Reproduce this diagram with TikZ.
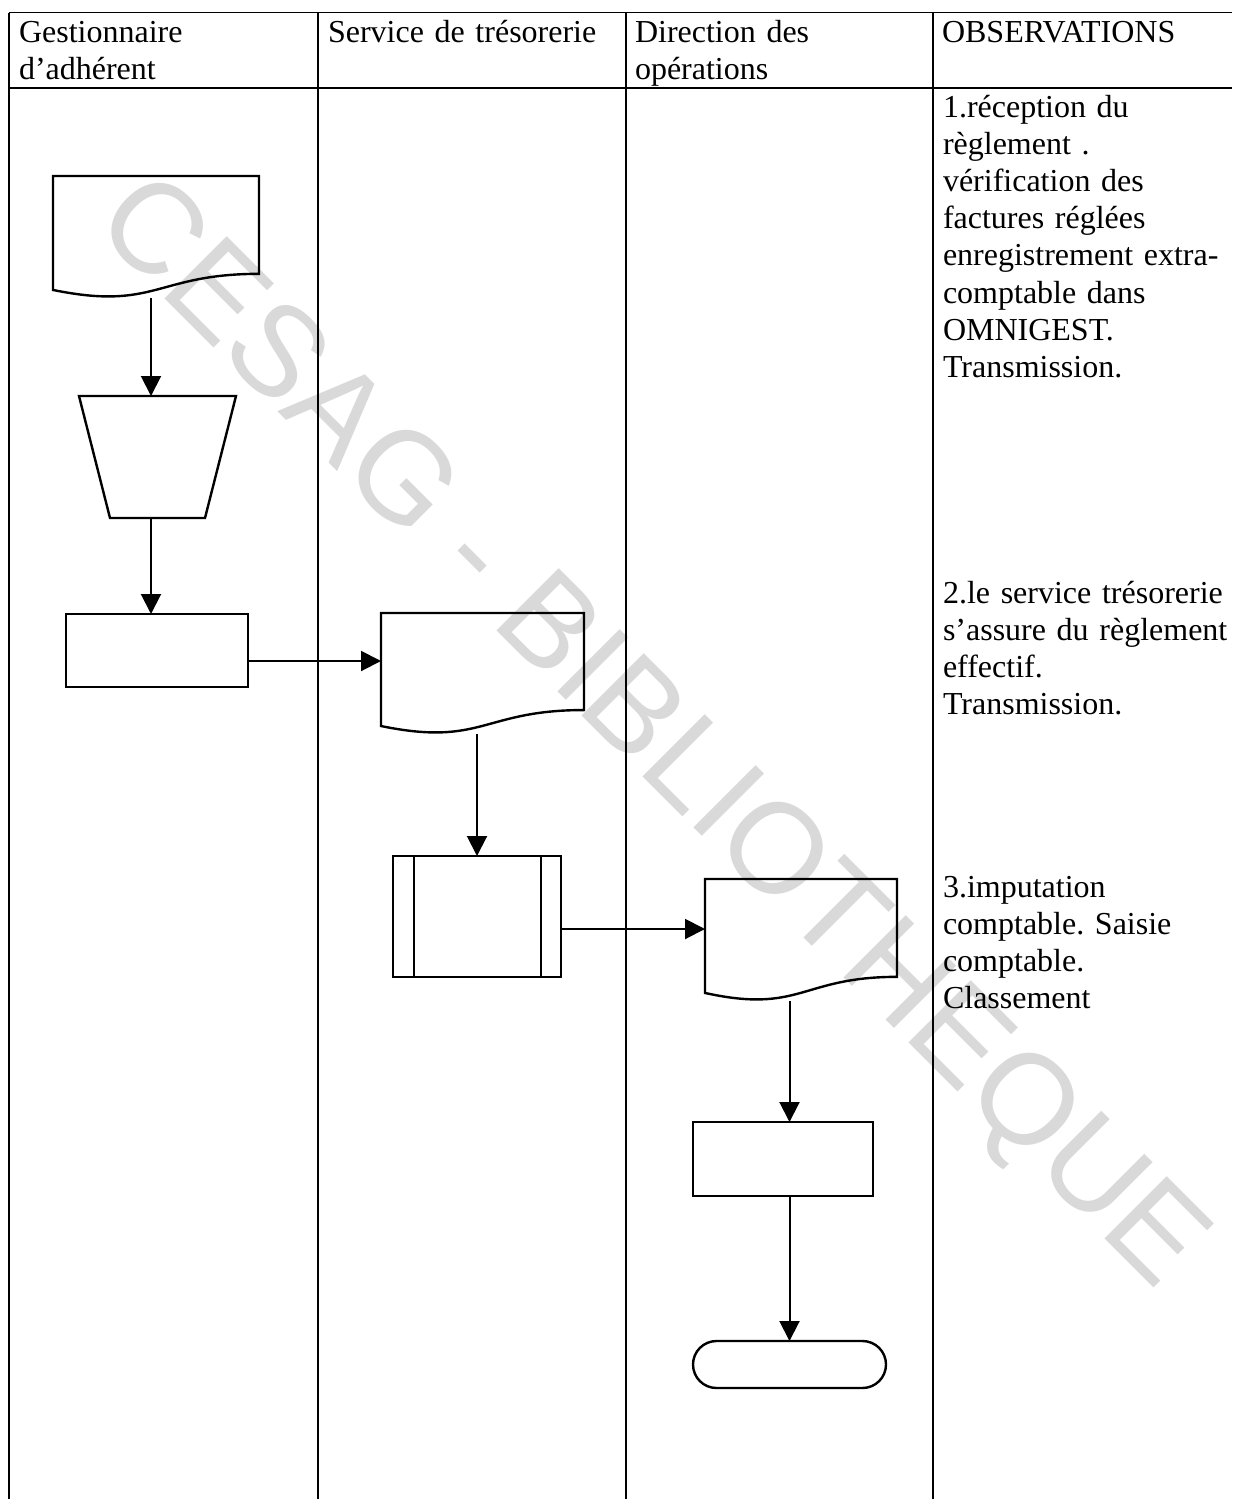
\documentclass[tikz,border=0pt]{standalone}
\usepackage{fontspec}
\setmainfont{Liberation Serif}
\newfontfamily\wmfont{Liberation Sans}
\usetikzlibrary{calc,arrows.meta}
\newcommand\docoutline[1]{%
  \draw[shp] (#1.north west) -- (#1.north east)
    -- ($(#1.north east)!0.802!(#1.south east)$)
    .. controls ($(#1.north)!0.802!(#1.south)$) and ($(#1.north)!1.107!(#1.south)$)
    .. ($(#1.north west)!0.934!(#1.south west)$) -- cycle;}
\begin{document}
\begin{tikzpicture}[x=0.5pt,y=-0.5pt,
  grid/.style={line width=0.9pt},
  shp/.style={line width=1.2pt},
  invis/.style={draw=none,inner sep=0pt,outer sep=0pt},
  boxed/.style={draw,line width=1.2pt,inner sep=0pt,outer sep=0pt},
  arr/.style={line width=1pt,-{Triangle[length=10pt,width=10pt]}},
  txt/.style={anchor=north west,inner sep=0pt,outer sep=0pt,text width=150pt,font=\fontsize{16}{18.6}\selectfont,execute at begin node={\raggedright\frenchspacing}},
]
\useasboundingbox (0,0) rectangle (1232,1499);
\fill[white] (0,0) rectangle (1232,1499);
% watermark
\node[font=\wmfont\fontsize{64}{64}\selectfont, text=black!15, rotate=-45, anchor=base, inner sep=0pt] (wm) at (625,759) {CESAG - BIBLIOTHEQUE};
% table
\draw[grid] (9,12.5) -- (1232,12.5);
\draw[grid] (9,88) -- (1232,88);
\foreach \x in {9,318,626,933} \draw[grid] (\x,12.5) -- (\x,1499);
% headers
\node[txt] (h1) at (19,16) {\strut Gestionnaire\\d’adhérent};
\node[txt] (h2) at (328,16) {\strut Service de trésorerie};
\node[txt] (h3) at (635,16) {\strut Direction des\\opérations};
\node[txt] (h4) at (942,16) {\strut OBSERVATIONS};
% observations
\node[txt] (o1) at (943,91) {\strut 1.réception du\\règlement .\\vérification des\\factures réglées\\enregistrement extra-\\comptable dans\\OMNIGEST.\\Transmission.};
\node[txt] (o2) at (943,577) {\strut 2.le service trésorerie\\s’assure du règlement\\effectif.\\Transmission.};
\node[txt] (o3) at (943,871) {\strut 3.imputation\\comptable. Saisie\\comptable.\\Classement};
% shapes
\node[invis,minimum width=103pt,minimum height=61pt] (d1) at (156,237) {};
\docoutline{d1}
\node[invis,minimum width=78.5pt,minimum height=61pt] (t1) at (157.5,457) {};
\draw[shp] (t1.north west) -- (t1.north east) -- ($(t1.south east)+(-31,0)$) -- ($(t1.south west)+(31,0)$) -- cycle;
\node[boxed,minimum width=91pt,minimum height=36.5pt] (r1) at (157,650.5) {};
\node[invis,minimum width=101.5pt,minimum height=60.5pt] (d2) at (482.5,673.5) {};
\docoutline{d2}
\node[boxed,minimum width=84pt,minimum height=60.5pt] (p1) at (477,916.5) {};
\draw[shp] ($(p1.north west)+(21,0)$) -- ($(p1.south west)+(21,0)$);
\draw[shp] ($(p1.north east)+(-20,0)$) -- ($(p1.south east)+(-20,0)$);
\node[invis,minimum width=96pt,minimum height=61pt] (d3) at (801,940) {};
\docoutline{d3}
\node[boxed,minimum width=90pt,minimum height=37pt] (r2) at (783,1159) {};
\node[boxed,minimum width=96.5pt,minimum height=23.5pt,rounded corners=11.75pt] (tm) at (789.5,1364.5) {};
% connectors
\coordinate (a1) at ($(d1.south)+(-5,0)$);
\draw[arr] (a1) -- (a1 |- t1.north);
\draw[arr] (a1 |- t1.south) -- (a1 |- r1.north);
\coordinate (a3) at ($(r1.east)+(0,10.5)$);
\draw[arr] (a3) -- (a3 -| d2.west);
\draw[arr] (p1.north |- d2.south) -- (p1.north);
\coordinate (a5) at ($(p1.east)+(0,12.5)$);
\draw[arr] (a5) -- (a5 -| d3.west);
\coordinate (a6) at (tm.north |- d3.south);
\draw[arr] (a6) -- (a6 |- r2.north);
\draw[arr] (a6 |- r2.south) -- (tm.north);
\end{tikzpicture}
\end{document}
